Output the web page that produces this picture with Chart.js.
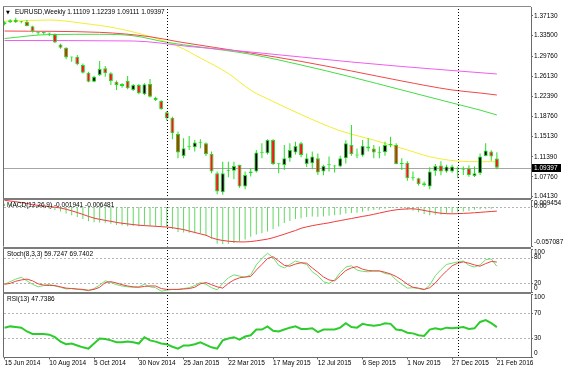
<!DOCTYPE html>
<html><head><meta charset="utf-8">
<script src="https://cdn.jsdelivr.net/npm/chart.js@4.4.1/dist/chart.umd.min.js"></script>
<style>
html,body{margin:0;padding:0;background:#fff;}
#wrap{position:relative;width:568px;height:370px;overflow:hidden;background:#fff;}
canvas{position:absolute;left:0;top:0;}
.t{position:absolute;font-family:"Liberation Sans",Arial,sans-serif;font-size:6.5px;line-height:8px;color:#000;white-space:pre;z-index:5;}
.tri{position:absolute;font-family:"DejaVu Sans",sans-serif;font-size:5px;line-height:6px;color:#000;z-index:5;}
</style></head><body>
<div id="wrap">
<canvas id="cPrice" width="568" height="370"></canvas>
<canvas id="cMacd" width="568" height="370"></canvas>
<canvas id="cStoch" width="568" height="370"></canvas>
<canvas id="cRsi" width="568" height="370"></canvas>
<div class="tri" style="left:6px;top:9px">▼</div>
<div class="t" id="tPrice" style="left:15px;top:7.7px"></div>
<div class="t" id="tMacd" style="left:7px;top:201.3px"></div>
<div class="t" id="tStoch" style="left:7px;top:249.7px"></div>
<div class="t" id="tRsi" style="left:7px;top:295.3px"></div>
</div>
<script>
// ---------- DATA ----------
const symbol = 'EURUSD,Weekly';
const tickWeeks = [0, 8, 16, 24, 32, 40, 48, 56, 64, 72, 80, 88];
const tickLabels = ['15 Jun 2014','10 Aug 2014','5 Oct 2014','30 Nov 2014','25 Jan 2015','22 Mar 2015',
  '17 May 2015','12 Jul 2015','6 Sep 2015','1 Nov 2015','27 Dec 2015','21 Feb 2016'];
const separatorWeeks = [29, 81];

const opens = [
1.3560,1.3595,1.3640,1.3595,1.3605,1.3520,1.3408,1.3402,1.3395,1.3375,
1.3190,1.3130,1.2950,1.2966,1.2814,1.2674,1.2510,1.2632,1.2754,1.2662,
1.2510,1.2468,1.2522,1.2359,1.2450,1.2280,1.2468,1.2219,1.2158,1.1951,
1.1854,1.1557,1.1156,1.1322,1.1314,1.1399,1.1387,1.1192,1.0840,1.0496,
1.0885,1.0888,1.0992,1.0597,1.0840,1.0870,1.1214,1.1205,1.1447,1.1005,
1.0992,1.1113,1.1217,1.1387,1.1010,1.1022,1.1113,1.0873,1.0988,1.0965,
1.0962,1.1113,1.1356,1.1165,1.1162,1.1326,1.1290,1.1217,1.1223,1.1360,
1.1356,1.1010,1.1034,1.0749,1.0749,1.0657,1.0597,1.0882,1.0980,1.0870,
1.0870,1.0914,1.0910,1.0931,1.0791,1.0840,1.1156,1.1235,1.11109];
const highs = [
1.3610,1.3650,1.3677,1.3615,1.3635,1.3530,1.3425,1.3420,1.3400,1.3390,
1.3200,1.3140,1.2966,1.2995,1.2840,1.2690,1.2620,1.2887,1.2796,1.2680,
1.2530,1.2480,1.2614,1.2470,1.2470,1.2480,1.2559,1.2235,1.2170,1.1970,
1.1870,1.1600,1.1478,1.1520,1.1447,1.1460,1.1399,1.1235,1.0871,1.1052,
1.1052,1.1052,1.0995,1.0870,1.0931,1.1265,1.1387,1.1460,1.1460,1.1022,
1.1356,1.1387,1.1417,1.1410,1.1200,1.1235,1.1200,1.0997,1.1144,1.0992,
1.1160,1.1440,1.1721,1.1290,1.1447,1.1478,1.1356,1.1326,1.1417,1.1508,
1.1387,1.1113,1.1060,1.0870,1.0760,1.0688,1.0949,1.1010,1.1059,1.0994,
1.0995,1.0962,1.0962,1.0986,1.0962,1.1200,1.1387,1.1260,1.12239];
const lows = [
1.3540,1.3580,1.3580,1.3575,1.3520,1.3405,1.3365,1.3365,1.3345,1.3215,
1.3110,1.2920,1.2875,1.2810,1.2660,1.2500,1.2500,1.2614,1.2601,1.2450,
1.2358,1.2400,1.2370,1.2340,1.2280,1.2265,1.2220,1.2160,1.2000,1.1800,
1.1460,1.1113,1.1113,1.1265,1.1235,1.1295,1.1156,1.0840,1.0457,1.0450,
1.0767,1.0730,1.0578,1.0548,1.0779,1.0852,1.1113,1.1180,1.0992,1.0840,
1.0900,1.1050,1.1180,1.1134,1.0955,1.0915,1.0809,1.0806,1.0870,1.0852,
1.0950,1.1017,1.1160,1.1113,1.1140,1.1235,1.1113,1.1113,1.1160,1.1314,
1.1003,1.0900,1.0703,1.0706,1.0616,1.0597,1.0548,1.0796,1.0804,1.0848,
1.0850,1.0749,1.0809,1.0778,1.0770,1.0810,1.1150,1.1067,1.09111];
const closes = [
1.3595,1.3630,1.3595,1.3600,1.3525,1.3430,1.3403,1.3398,1.3390,1.3225,
1.3130,1.2950,1.2955,1.2826,1.2674,1.2510,1.2601,1.2741,1.2662,1.2522,
1.2450,1.2431,1.2389,1.2450,1.2298,1.2462,1.2237,1.2176,1.2012,1.1842,
1.1568,1.1217,1.1296,1.1326,1.1399,1.1395,1.1186,1.0870,1.0506,1.0840,
1.0890,1.0973,1.0597,1.0809,1.0870,1.1217,1.1217,1.1447,1.1010,1.1010,
1.1113,1.1265,1.1338,1.1174,1.1113,1.1144,1.0852,1.0973,1.0992,1.0962,
1.1113,1.1387,1.1192,1.1162,1.1344,1.1290,1.1217,1.1213,1.1356,1.1356,
1.1010,1.1013,1.0749,1.0752,1.0645,1.0627,1.0870,1.0973,1.0870,1.0962,
1.0962,1.0918,1.0906,1.0809,1.0840,1.1144,1.1253,1.1144,1.09397];

// moving averages: [week, value]
const maYellow = [[0,1.3612],[8,1.3635],[14,1.3575],[20,1.3485],[26,1.3332],[31,1.3155],[35,1.2942],[40,1.2660],
  [44,1.2355],[48,1.2150],[53,1.1910],[60,1.1615],[66,1.1445],[72,1.1265],[76,1.1143],[81,1.1062],[85,1.1051],[88,1.1051]];
const maGreen = [[0,1.3297],[8,1.3370],[17,1.3374],[23,1.3348],[29,1.3228],[35,1.3142],[44,1.3010],[53,1.2815],
  [62,1.2595],[71,1.2359],[80,1.2122],[85,1.1992],[88,1.1903]];
const maRed = [[0,1.3434],[17,1.3410],[26,1.3330],[31,1.3239],[44,1.3033],[53,1.2880],[62,1.2705],[71,1.2523],
  [80,1.2359],[85,1.2304],[88,1.2267]];
const maMagenta = [[0,1.3261],[23,1.3252],[33,1.3152],[44,1.3051],[53,1.2960],[62,1.2869],[71,1.2787],[80,1.2714],[88,1.2650]];

const macdMain = [
0.0040,0.0035,0.0030,0.0025,0.0015,0.0000,-0.0012,-0.0022,-0.0032,-0.0050,
-0.0070,-0.0100,-0.0122,-0.0148,-0.0178,-0.0210,-0.0225,-0.0228,-0.0232,-0.0245,
-0.0262,-0.0272,-0.0280,-0.0278,-0.0282,-0.0275,-0.0278,-0.0280,-0.0285,-0.0292,
-0.0320,-0.0362,-0.0372,-0.0375,-0.0380,-0.0385,-0.0410,-0.0460,-0.0530,-0.0535,
-0.0530,-0.0520,-0.0500,-0.0470,-0.0430,-0.0400,-0.0380,-0.0356,-0.0320,-0.0285,
-0.0236,-0.0205,-0.0178,-0.0165,-0.0150,-0.0140,-0.0145,-0.0140,-0.0132,-0.0122,
-0.0117,-0.0100,-0.0093,-0.0088,-0.0075,-0.0058,-0.0050,-0.0045,-0.0032,-0.0021,
-0.0020,-0.0022,-0.0045,-0.0060,-0.0080,-0.0105,-0.0125,-0.0117,-0.0112,-0.0100,
-0.0093,-0.0082,-0.0070,-0.0062,-0.0046,-0.0038,-0.0031,-0.0030,-0.001941];
const macdSignal = [
0.0090,0.0080,0.0070,0.0058,0.0045,0.0028,0.0018,0.0010,0.0002,-0.0008,
-0.0020,-0.0038,-0.0060,-0.0085,-0.0112,-0.0140,-0.0165,-0.0182,-0.0197,-0.0210,
-0.0226,-0.0238,-0.0248,-0.0257,-0.0266,-0.0272,-0.0277,-0.0282,-0.0287,-0.0293,
-0.0302,-0.0315,-0.0328,-0.0350,-0.0370,-0.0390,-0.0410,-0.0445,-0.0470,-0.0485,
-0.0495,-0.0502,-0.0505,-0.0505,-0.0500,-0.0490,-0.0478,-0.0465,-0.0445,-0.0420,
-0.0395,-0.0368,-0.0342,-0.0310,-0.0290,-0.0273,-0.0258,-0.0245,-0.0232,-0.0215,
-0.0200,-0.0185,-0.0170,-0.0155,-0.0140,-0.0127,-0.0110,-0.0092,-0.0075,-0.0058,
-0.0046,-0.0038,-0.0033,-0.0031,-0.0040,-0.0055,-0.0070,-0.0083,-0.0095,-0.0101,
-0.0103,-0.0101,-0.0097,-0.0093,-0.0088,-0.0082,-0.0076,-0.0070,-0.006481];

const stochMain = [
18,24,30,34,26,18,12,15,18,14,
11,7,8,6,5,3,8,16,26,22,
17,14,12,11,12,18,12,10,2,4,
6,6,8,10,15,22,18,10,5,20,
33,40,37,34,40,63,78,90,80,62,
56,64,72,68,64,47,38,24,20,28,
45,58,61,51,48,47,49,49,43,41,
28,18,9,10,8,5,16,38,52,64,
67,70,72,62,58,63,75,77,59.7247];
const stochSignal = [
18,20,25,28,30,26,19,16,15,15,
12,9,8,7,6,4,6,11,22,24,
21,17,14,12,11,13,14,14,8,6,
6,6,7,8,11,19,22,17,12,9,
20,28,33,35,36,51,64,78,82,72,
62,60,65,68,67,56,46,35,28,26,
38,50,56,59,53,50,49,49,46,42,
36,28,18,11,9,6,10,21,36,49,
61,67,70,67,63,60,66,71,69.7402];
const rsiValues = [
47,49,48,47,41,37,37,37,36,32,
25,21,22,19,16,14,22,30,29,27,
24,24,25,24,22,32,27,25,22,21,
17,14,19,19,21,24,20,16,14,27,
30,32,28,33,35,44,44,49,42,41,
44,47,49,45,45,46,40,44,44,44,
47,54,48,47,53,51,50,51,54,53,
44,43,39,38,35,34,44,46,44,47,
46,47,48,45,46,56,59,54,47.7386];

const priceTicks = [1.37130,1.33500,1.29760,1.26130,1.22390,1.18760,1.15130,1.11390,1.07760,1.04130];
const macdTicks = [0.009454, 0, -0.057087];
const stochTicks = [100, 80, 20, 0];
const stochLevels = [80, 20];
const rsiTicks = [100, 70, 30, 0];
const rsiLevels = [70, 30];

// ---------- STYLE / HELPERS ----------
const FONT_FAMILY = '"Liberation Sans", Arial, sans-serif';
const FONT = '6.5px ' + FONT_FAMILY;
Chart.defaults.font.family = FONT_FAMILY;
Chart.defaults.font.size = 6.5;
Chart.defaults.color = '#000';

const WICK = '#22dd22', BEAR = '#ee1a1a', BULL = '#000000';
const AXIS = '#6a6a6a', SEP = '#7c7c7c';
const xMin = -0.1, xMax = 94.1;
const last = closes.length - 1;

document.getElementById('tPrice').textContent =
  symbol + ' ' + [opens[last], highs[last], lows[last], closes[last]].map(v => v.toFixed(5)).join(' ');
document.getElementById('tMacd').textContent =
  'MACD(12,26,9) ' + macdMain[last].toFixed(6) + ' ' + macdSignal[last].toFixed(6);
document.getElementById('tStoch').textContent =
  'Stoch(8,3,3) ' + stochMain[last].toFixed(4) + ' ' + stochSignal[last].toFixed(4);
document.getElementById('tRsi').textContent = 'RSI(13) ' + rsiValues[last].toFixed(4);

const series = arr => arr.map((v, i) => ({x: i, y: v}));
const pairs = arr => arr.map(p => ({x: p[0], y: p[1]}));

function makeDeco(cfg) {
  return {
    id: 'deco',
    beforeDatasetsDraw(chart) {
      const {ctx, chartArea: a} = chart; const y = chart.scales.y;
      ctx.save();
      ctx.lineWidth = 1;
      if (cfg.levels) {
        ctx.strokeStyle = '#b4b4b4'; ctx.setLineDash([2, 2]);
        cfg.levels.forEach(v => {
          const py = Math.round(y.getPixelForValue(v)) + 0.5;
          ctx.beginPath(); ctx.moveTo(a.left, py); ctx.lineTo(a.right, py); ctx.stroke();
        });
      }
      if (cfg.bid != null) {
        ctx.setLineDash([]); ctx.strokeStyle = '#a6a6a6';
        const py = Math.round(y.getPixelForValue(cfg.bid)) + 0.5;
        ctx.beginPath(); ctx.moveTo(a.left, py); ctx.lineTo(a.right, py); ctx.stroke();
      }
      ctx.restore();
    },
    afterDatasetsDraw(chart) {
      const {ctx, chartArea: a} = chart; const x = chart.scales.x, y = chart.scales.y;
      ctx.save();
      // period separators
      ctx.strokeStyle = '#000'; ctx.lineWidth = 1; ctx.setLineDash([1, 2]);
      separatorWeeks.forEach(w => {
        const px = Math.round(x.getPixelForValue(w)) + 0.5;
        ctx.beginPath(); ctx.moveTo(px, a.top - cfg.topWidth); ctx.lineTo(px, a.bottom); ctx.stroke();
      });
      ctx.setLineDash([]);
      // top separator and left frame
      ctx.fillStyle = cfg.topColor;
      ctx.fillRect(a.left - 1, a.top - cfg.topWidth, a.right - a.left + 1, cfg.topWidth);
      ctx.fillStyle = AXIS;
      ctx.fillRect(a.left - 1, a.top, 1, a.bottom - a.top);
      // clamped axis labels
      if (cfg.labels) {
        ctx.fillStyle = '#000'; ctx.font = FONT; ctx.textBaseline = 'middle'; ctx.textAlign = 'left';
        cfg.labels.forEach(v => {
          let py = y.getPixelForValue(v);
          py = Math.max(a.top + 3.5, Math.min(a.bottom - 4, py));
          ctx.fillText(cfg.fmt(v), a.right + 3, py);
        });
      }
      // current price box
      if (cfg.bid != null) {
        const py = y.getPixelForValue(cfg.bid);
        ctx.fillStyle = '#000'; ctx.fillRect(a.right + 1, Math.round(py) - 4, 29, 8);
        ctx.fillStyle = '#fff'; ctx.font = FONT; ctx.textBaseline = 'middle'; ctx.textAlign = 'left';
        ctx.fillText(cfg.bid.toFixed(5), a.right + 3, Math.round(py) + 0.2);
      }
      ctx.restore();
    }
  };
}

const xHidden = {type: 'linear', display: false, min: xMin, max: xMax, offset: false};
function subY(min, max, ticksArr) {
  return {
    type: 'linear', position: 'right', min, max,
    afterBuildTicks: s => { s.ticks = ticksArr.map(v => ({value: v})); },
    afterFit: s => { s.width = 37; s.paddingTop = 0; s.paddingBottom = 0; },
    ticks: {display: false},
    grid: {drawOnChartArea: false, drawTicks: true, tickLength: 2, color: AXIS},
    border: {display: true, color: AXIS, width: 1}
  };
}
function baseOpts(pad, scales) {
  return {
    responsive: false, animation: false, devicePixelRatio: 1,
    layout: {padding: pad},
    plugins: {legend: {display: false}, tooltip: {enabled: false}},
    scales
  };
}
const lineDs = (data, color, width, extra) => Object.assign({
  type: 'line', data, borderColor: color, borderWidth: width, pointRadius: 0, fill: false, tension: 0
}, extra || {});

// ---------- PRICE PANEL ----------
const bodyData = opens.map((o, i) => ({x: i, y: [o, closes[i]]}));
const wickData = lows.map((l, i) => ({x: i, y: [l, highs[i]]}));
new Chart(document.getElementById('cPrice'), {
  type: 'bar',
  data: {datasets: [
    {type: 'bar', data: bodyData, order: 1, grouped: false, barThickness: 4, borderWidth: 1,
     borderColor: WICK, borderSkipped: false, minBarLength: 1, inflateAmount: 0,
     backgroundColor: c => {
       const i = c.dataIndex; const d = closes[i] - opens[i];
       return Math.abs(d) < 0.0006 ? WICK : (d > 0 ? BULL : BEAR);
     }},
    {type: 'bar', data: wickData, order: 2, grouped: false, barThickness: 1, borderWidth: 0,
     inflateAmount: 0, backgroundColor: WICK},
    lineDs(pairs(maMagenta), '#f05cf0', 1, {order: 3, cubicInterpolationMode: 'monotone'}),
    lineDs(pairs(maRed), '#f04848', 1, {order: 3, cubicInterpolationMode: 'monotone'}),
    lineDs(pairs(maGreen), '#44dd44', 1, {order: 3, cubicInterpolationMode: 'monotone'}),
    lineDs(pairs(maYellow), '#f2ee30', 1, {order: 3, cubicInterpolationMode: 'monotone'})
  ]},
  options: baseOpts({left: 4, top: 7, right: 0, bottom: 172}, {
    x: xHidden,
    y: {
      type: 'linear', position: 'right', min: 1.0389, max: 1.3872,
      afterBuildTicks: s => { s.ticks = priceTicks.map(v => ({value: v})); },
      afterFit: s => { s.width = 37; s.paddingTop = 0; s.paddingBottom = 0; },
      ticks: {callback: v => Number(v).toFixed(5), padding: 1, autoSkip: false, color: '#000', font: {size: 6.5}},
      grid: {drawOnChartArea: false, drawTicks: true, tickLength: 2, color: AXIS},
      border: {display: true, color: AXIS, width: 1}
    }
  }),
  plugins: [makeDeco({topWidth: 1, topColor: '#8a8a8a', bid: closes[last]})]
});

// ---------- MACD PANEL ----------
new Chart(document.getElementById('cMacd'), {
  type: 'bar',
  data: {datasets: [
    lineDs(series(macdSignal), '#f03a3a', 1, {order: 0}),
    {type: 'bar', data: series(macdMain), order: 1, grouped: false, barThickness: 1, borderWidth: 0,
     inflateAmount: 0, backgroundColor: '#62d862'}
  ]},
  options: baseOpts({left: 4, top: 200, right: 0, bottom: 123.5}, {
    x: xHidden,
    y: subY(macdTicks[2], macdTicks[0], macdTicks)
  }),
  plugins: [makeDeco({topWidth: 2, topColor: SEP, levels: [0], labels: macdTicks,
    fmt: v => v === 0 ? '0.00' : v.toFixed(6)})]
});

// ---------- STOCHASTIC PANEL ----------
new Chart(document.getElementById('cStoch'), {
  type: 'line',
  data: {datasets: [
    lineDs(series(stochSignal), '#f04040', 1, {order: 0}),
    lineDs(series(stochMain), '#6ee06e', 1, {order: 1})
  ]},
  options: baseOpts({left: 4, top: 249, right: 0, bottom: 78}, {
    x: xHidden,
    y: subY(0, 100, stochTicks)
  }),
  plugins: [makeDeco({topWidth: 2, topColor: SEP, levels: stochLevels, labels: stochTicks, fmt: v => String(v)})]
});

// ---------- RSI PANEL + TIME AXIS ----------
new Chart(document.getElementById('cRsi'), {
  type: 'line',
  data: {datasets: [
    lineDs(series(rsiValues), '#2ccc2c', 2, {order: 0})
  ]},
  options: baseOpts({left: 4, top: 294, right: 0, bottom: 0}, {
    x: {
      type: 'linear', position: 'bottom', min: xMin, max: xMax, offset: false,
      afterBuildTicks: s => { s.ticks = tickWeeks.map(v => ({value: v})); },
      afterFit: s => { s.height = 12.5; s.paddingLeft = 0; s.paddingRight = 0; },
      ticks: {callback: (v, i) => tickLabels[i], align: 'start', maxRotation: 0, minRotation: 0,
              autoSkip: false, padding: 0, color: '#000', font: {size: 6.5}},
      grid: {drawOnChartArea: false, drawTicks: true, tickLength: 2, color: AXIS},
      border: {display: true, color: AXIS, width: 1}
    },
    y: subY(0, 100, rsiTicks)
  }),
  plugins: [makeDeco({topWidth: 2, topColor: SEP, levels: rsiLevels, labels: rsiTicks, fmt: v => String(v)})]
});
</script>
</body></html>
